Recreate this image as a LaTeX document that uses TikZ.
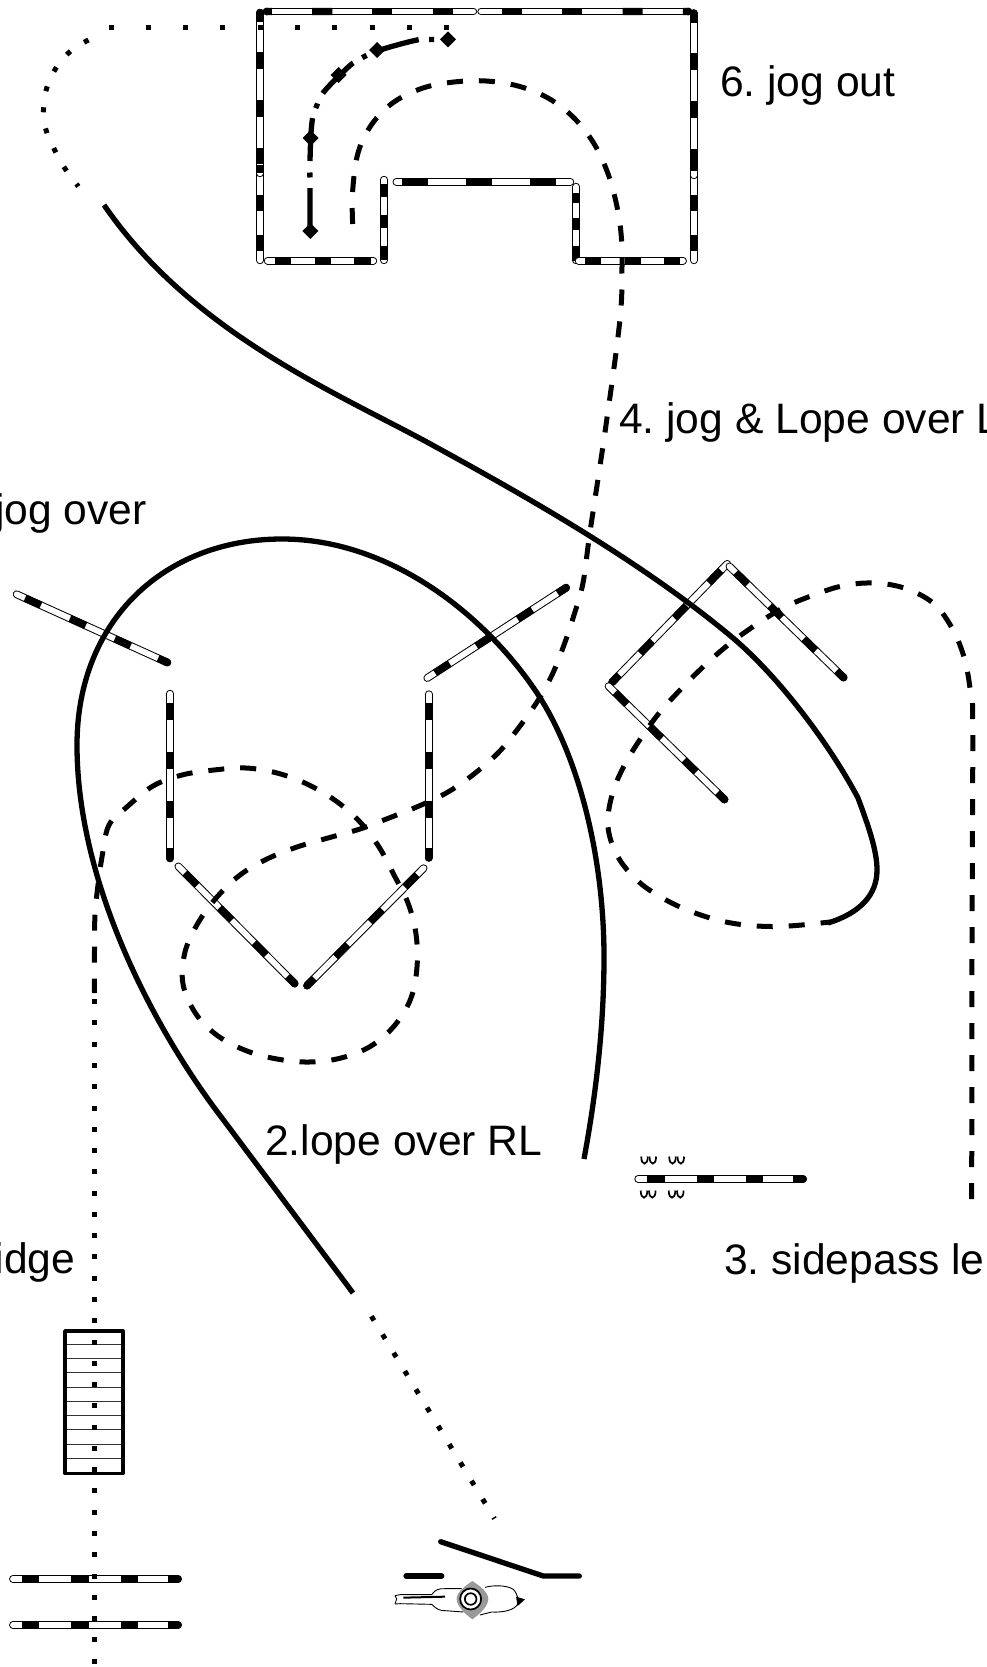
\documentclass[tikz,border=0pt]{standalone}
\usepackage{fontspec}
\setmainfont{Liberation Sans}
\usetikzlibrary{calc}
\newcommand{\polebody}[5]{%
  \draw[line cap=round,line width=7.8pt,draw=black] ($(#1,#2)!3.7pt!(#3,#4)$)--($(#3,#4)!3.7pt!(#1,#2)$);
  \draw[line cap=round,line width=5.8pt,draw=white] ($(#1,#2)!3.7pt!(#3,#4)$)--($(#3,#4)!3.7pt!(#1,#2)$);
  \foreach \ps/\pe in {#5}{\draw[line width=7.4pt,draw=black] ($(#1,#2)!\ps!(#3,#4)$)--($(#1,#2)!\pe!(#3,#4)$);}
}
\newcommand{\fullpole}[4]{\polebody{#1}{#2}{#3}{#4}{.075/.175,.36/.46,.645/.745,.92/.978}\fill[black] ($(#3,#4)!3.7pt!(#1,#2)$) circle (3.9pt);}
\newcommand{\longpole}[4]{\polebody{#1}{#2}{#3}{#4}{.113/.207,.395/.489,.676/.77,.958/.983}\fill[black] ($(#3,#4)!3.7pt!(#1,#2)$) circle (3.9pt);}
\newcommand{\hoofpair}[2]{%
  \draw[line width=1.7pt] (#1-3.3,#2-3.5) .. controls (#1-3.3,#2+6) and (#1+3.3,#2+6) .. (#1+3.3,#2-3.5);
  \draw[line width=1.7pt] (#1+5,#2-3.5) .. controls (#1+5,#2+6) and (#1+11.6,#2+6) .. (#1+11.6,#2-3.5);
}
\tikzset{
  solidline/.style={line width=5.3pt,draw=black},
  dashline/.style={line width=5pt,draw=black,dash pattern=on 16pt off 16pt},
  dotline/.style={line width=5pt,draw=black,dash pattern=on 5pt off 16.3pt},
  label/.style={font=\fontsize{42.6pt}{44pt}\selectfont\frenchspacing,inner sep=0pt,text=black},
}
\begin{document}
\begin{tikzpicture}[x=1pt,y=-1pt]
\useasboundingbox (0,0) rectangle (986,1667);
\fill[white] (0,0) rectangle (986,1667);
% arena box
\longpole{477}{11.5}{263}{11.5}
\longpole{477.5}{11.5}{692}{11.5}
\polebody{260}{264}{260}{170}{.138/.309,.564/.734}
\fullpole{260}{177}{260}{9}
\fill[black] (256.3,165) rectangle (263.7,173);
\polebody{693.7}{264}{693.7}{170}{.138/.309,.564/.734}
\fullpole{693.7}{179}{693.7}{9.5}
\fill[black] (690,165) rectangle (697.4,171);
\polebody{264}{260.7}{377}{260.7}{.098/.24,.455/.597,.80/.945}
\polebody{384}{176}{384}{264}{.09/.24,.445/.59,.795/.96}
\polebody{392.7}{181.7}{574}{181.7}{.051/.195,.404/.547,.757/.90}
\polebody{576}{183}{576}{264}{.12/.243,.432/.58,.778/.963}
\polebody{575}{260.7}{686.7}{260.7}{.09/.233,.448/.591,.797/.94}
% centre poles
\fullpole{13.3}{592.8}{170.7}{664}
\fullpole{170}{690}{170}{862}
\fullpole{428.7}{690.5}{428.7}{861.5}
\fullpole{424.2}{680}{569.2}{585.7}
\fullpole{175.8}{863.8}{297.2}{986.2}
\fullpole{426.2}{865.6}{304.5}{988.2}
\fullpole{729.8}{561.2}{609.6}{684.8}
\fullpole{726.8}{563.9}{846.2}{680.1}
\fullpole{605.9}{683.6}{727.1}{802.1}
% sidepass
\fullpole{634.5}{1179}{806.7}{1179}
\hoofpair{644.5}{1160}
\hoofpair{672.5}{1160}
\hoofpair{644}{1194}
\hoofpair{672}{1194}
% bridge
\foreach \ry in {1344.3,1358.7,1372.7,1387.3,1401.3,1415.7,1429.7,1444,1458.3}{\draw[line width=1pt,draw=black!80] (65,\ry)--(123,\ry);}
\draw[line width=3.6pt,line join=round] (65,1331) rectangle (122.8,1473.5);
% bottom poles
\fullpole{9.3}{1579}{181.7}{1579}
\fullpole{9.3}{1625}{181.7}{1625}
% horse
\begin{scope}[shift={(350,1500)},x=.3333pt,y=-.3333pt]
\fill[black!40] (367,243) .. controls (385,255) and (415,275) .. (415,297) .. controls (415,320) and (385,345) .. (367,358) .. controls (350,345) and (320,320) .. (320,297) .. controls (320,275) and (350,255) .. (367,243) -- cycle;
\draw[line width=.9pt] (135,287) -- (150,284) -- (245,284) .. controls (255,270) and (265,265) .. (285,266) -- (335,266);
\draw[line width=.9pt] (135,312) -- (150,311) -- (245,313) .. controls (260,328) and (270,332) .. (285,332) -- (340,336);
\draw[line width=.9pt] (135,287) -- (140,297) -- (135,312);
\draw[line width=2pt] (160,293) -- (285,290);
\draw[line width=.9pt] (405,262) .. controls (430,255) and (470,255) .. (490,268) .. controls (505,285) and (505,300) .. (503,312) .. controls (495,330) and (460,338) .. (425,336) -- (390,345);
\fill[black] (498,290) -- (525,298) -- (503,318) -- cycle;
\draw[line width=1.7pt,fill=white] (362,297) circle (10.5pt);
\draw[line width=1.7pt,fill=white] (362,297) circle (5.8pt);
\end{scope}
\draw[line width=5.3pt,line cap=round,line join=round] (440.7,1541.7) -- (543.3,1576) -- (579.3,1576);
\draw[line width=5.3pt,line cap=round] (406,1576) -- (441.7,1576);
% routes
\draw[dotline,dash pattern=on 5pt off 32.3pt] (449.2,27.7) -- (108,27.7);
\draw[dotline] plot[smooth,tension=.7] coordinates {(88.5,40) (70.8,51) (56.9,66.7) (47.4,86) (43.6,107) (45.5,128) (53.7,148) (63.8,166.7) (76.5,184) (78,186)};
\draw[solidline,dash pattern=on 43pt off 10.5pt on 5pt off 11.5pt] plot[smooth,tension=.7] coordinates {(310,231) (310,188) (310,160) (312,122) (317,105) (323,93) (338,77) (353,63) (364,56.7) (380,50) (417,40) (431,39.5) (445,39)};
\foreach \dx/\dy in {310.3/231,310.7/138,338.7/75,377/50,448/39.3}{\fill[black] (\dx-8,\dy) -- (\dx,\dy-8) -- (\dx+8,\dy) -- (\dx,\dy+8) -- cycle;}
\draw[dashline] plot[smooth,tension=.6] coordinates {(352.7,224) (352.5,193) (358,153) (372,124) (394,102) (423,88) (454,82) (486,81) (518,86) (548,98) (573,117) (593,142) (607,171) (616,202) (621,233) (622,265) (620,319) (606,425) (590,532) (583,583) (574,615) (564,645) (552,675) (537,702) (517,730) (498,753) (474,774) (448,792) (419,806) (389,818) (360,829) (328,838) (297,847) (267,859) (240,875) (217,897) (198,923) (185,952) (183,984) (196,1014) (218,1036) (247,1051) (277,1059) (309,1062) (341,1058) (371,1046) (395,1025) (411,998) (417,967) (416,934) (408,903) (394,875) (379,847) (360,822) (336,801) (307,784) (277,773) (246,768) (214,770) (182,775) (153,786) (128,806) (109,825) (102,857) (98,885) (95,915) (94.5,950) (94.5,993)};
\draw[dotline,dash pattern=on 5pt off 16.27pt] (94.7,999.2) -- (94.7,1667);
\draw[dashline] plot[smooth,tension=.6] coordinates {(971.7,1199) (972,945) (972.7,720) (970,688) (964,657) (952,628) (933,603) (904,588) (873,583) (842,586) (811,596) (783,608) (754,626) (728,645) (704,666) (682,688) (660,712) (641,738) (624,766) (612,795) (608,827) (618,857) (639,882) (666,900) (695,913) (726,922) (757,926) (789,926) (830,922)};
\draw[solidline] (104,205) .. controls (190,330) and (330,390) .. (425,441) .. controls (520,493) and (640,560) .. (733,638) .. controls (780,678) and (830,745) .. (858,798) .. controls (868,825) and (877,850) .. (877,870) .. controls (877,895) and (860,913) .. (828,923);
\draw[solidline] (353,1293) -- (213,1106) .. controls (150,1020) and (77,880) .. (77,745) .. controls (77,620) and (165,539) .. (282,539) .. controls (390,539) and (485,615) .. (537,693) .. controls (580,758) and (604,860) .. (604,957) .. controls (604,1030) and (595,1100) .. (584,1159);
\draw[dotline,dash pattern=on 5pt off 16.4pt] (371.4,1316.2) -- (494.5,1518.6);
% labels
\node[label,anchor=base west] (joglabel) at (720,97) {6. jog out};
\node[label,anchor=base west] (lopelabel) at (619,433) {4. jog \& Lope over L};
\node[label,anchor=base east] (overlabel) at (147,524) {jog over};
\node[label,anchor=base west] (rllabel) at (265,1155) {2.lope over RL};
\node[label,anchor=base east] (bridgelabel) at (75.5,1273) {idge};
\node[label,anchor=base west] (sidelabel) at (724,1274) {3. sidepass le};
\end{tikzpicture}
\end{document}
